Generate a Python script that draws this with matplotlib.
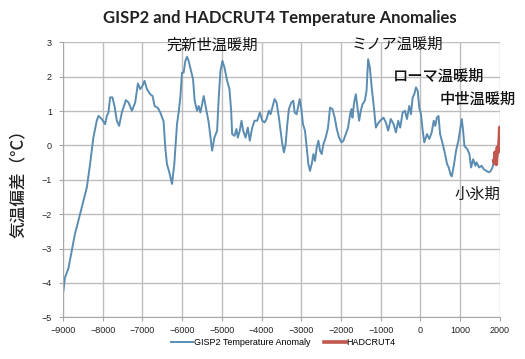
import matplotlib.pyplot as plt

# GISP2 (年, 気温偏差) - 画像から読み取り
gisp_years = [-9000, -8950, -8866, -8780, -8700, -8613, -8487, -8400, -8318, -8235,
              -8150, -8108, -8023, -7939, -7896, -7855, -7813, -7755, -7704, -7644,
              -7586, -7518, -7417, -7350, -7265, -7182, -7114, -7056, -6997, -6947,
              -6886, -6803, -6745, -6694, -6609, -6550, -6467, -6424, -6382, -6323,
              -6255, -6197, -6129, -6088, -6045, -6003, -5962, -5919, -5876, -5836,
              -5775, -5725, -5684, -5624, -5583, -5540, -5497, -5457, -5396, -5331,
              -5245, -5187, -5119, -5078, -5035, -4985, -4934, -4866, -4808, -4765,
              -4740, -4682, -4631, -4598, -4548, -4505, -4462, -4404, -4346, -4295,
              -4235, -4177, -4109, -4043, -3982, -3924, -3874, -3816, -3773, -3730,
              -3672, -3621, -3563, -3520, -3477, -3437, -3394, -3351, -3311, -3250,
              -3199, -3167, -3116, -3083, -3040, -2997, -2957, -2906, -2864, -2821,
              -2780, -2737, -2694, -2654, -2611, -2568, -2528, -2485, -2442, -2384,
              -2326, -2275, -2215, -2157, -2106, -2048, -1987, -1937, -1879, -1821,
              -1770, -1735, -1710, -1669, -1626, -1583, -1543, -1500, -1457, -1399,
              -1356, -1316, -1273, -1222, -1179, -1121, -1078, -1013, -927, -869,
              -811, -745, -674, -616, -558, -508, -447, -389, -338, -280,
              -237, -194, -154, -111, -68, -28, 15, 58, 98, 167,
              225, 285, 336, 376, 414, 457, 497, 563, 621, 672,
              715, 755, 790, 841, 899, 957, 1008, 1043, 1076, 1109,
              1177, 1235, 1278, 1328, 1386, 1414, 1479, 1539, 1596, 1663,
              1722, 1772, 1815, 1855]
gisp_temp = [-4.32, -3.84, -3.59, -3.06, -2.58, -2.19, -1.61, -1.22, -0.54, 0.23,
             0.72, 0.86, 0.77, 0.62, 0.86, 0.96, 1.40, 1.40, 1.15, 0.72,
             0.57, 0.96, 1.32, 1.25, 1.01, 1.25, 1.80, 1.64, 1.74, 1.88,
             1.64, 1.49, 1.44, 1.15, 1.09, 0.96, 0.70, -0.06, -0.54, -0.78,
             -1.12, -0.54, 0.62, 0.96, 1.40, 2.12, 2.12, 2.46, 2.58, 2.46,
             2.17, 1.93, 1.30, 1.01, 1.15, 0.96, 1.20, 1.44, 1.06, 0.67,
             -0.15, 0.23, 0.43, 1.40, 2.17, 2.46, 2.27, 1.88, 1.64, 1.01,
             0.33, 0.28, 0.48, 0.23, 0.43, 0.72, 0.43, 0.23, 0.52, 0.14,
             0.52, 0.72, 0.72, 0.96, 0.72, 0.67, 0.77, 1.01, 0.91, 1.10,
             1.35, 1.25, 0.81, 0.43, 0.04, -0.20, 0.04, 0.62, 1.06, 1.25,
             1.30, 0.96, 0.91, 1.10, 1.35, 1.06, 0.62, 0.43, -0.06, -0.54,
             -0.74, -0.54, -0.25, -0.45, -0.06, 0.14, -0.15, -0.25, 0.04, 0.23,
             0.52, 1.10, 1.06, 0.81, 0.48, 0.23, 0.09, 0.14, 0.33, 0.52,
             0.91, 1.06, 0.81, 1.25, 1.49, 1.10, 0.72, 1.01, 1.20, 1.30,
             1.59, 2.51, 2.27, 1.64, 1.20, 0.52, 0.62, 0.72, 0.81, 0.67,
             0.43, 0.77, 0.62, 0.38, 0.72, 0.52, 0.96, 1.01, 0.77, 1.15,
             0.91, 1.40, 1.49, 1.69, 1.59, 1.10, 0.91, 0.43, 0.09, 0.33,
             0.19, 0.38, 0.72, 0.57, 0.81, 0.86, 0.33, 0.04, -0.25, -0.54,
             -0.64, -0.83, -0.90, -0.59, -0.15, 0.14, 0.52, 0.77, 0.43, -0.01,
             -0.10, -0.25, -0.64, -0.40, -0.59, -0.49, -0.64, -0.59, -0.69, -0.74,
             -0.78, -0.74, -0.64, -0.45]

# HADCRUT4
had_years = [1850, 1860, 1870, 1878, 1885, 1895, 1905, 1911, 1920, 1930,
             1940, 1950, 1960, 1970, 1980, 1990, 1998, 2005, 2012]
had_temp = [-0.45, -0.50, -0.40, -0.20, -0.45, -0.40, -0.50, -0.55, -0.35, -0.25,
            -0.05, -0.20, -0.10, -0.15, 0.05, 0.25, 0.50, 0.45, 0.52]

# 注釈 (テキスト, x, y, 太さ)
notes = [('完新世温暖期', -5240, 2.93, 'normal'),
         ('ミノア温暖期', -590, 2.93, 'normal'),
         ('ローマ温暖期', 470, 2.0, 'medium'),
         ('中世温暖期', 1450, 1.33, 'medium'),
         ('小氷期', 1430, -1.41, 'normal')]

plt.rcParams['font.family'] = ['Liberation Sans', 'DejaVu Sans']
fig = plt.figure(figsize=(5.25, 3.59), dpi=100)
ax = fig.add_axes([0.12, 0.116, 0.832, 0.766])

ax.plot(gisp_years, gisp_temp, color='#5b8db3', lw=1.4, label='GISP2 Temperature Anomaly')
ax.plot(had_years, had_temp, color='#c2574d', lw=2.6, label='HADCRUT4')

ax.set_xlim(-9000, 2000)
ax.set_ylim(-5, 3)
ax.set_xticks(range(-9000, 2001, 1000))
ax.set_yticks(range(-5, 4))
ax.grid(True, color='#bdbdbd', lw=1.0)
ax.set_axisbelow(True)
for s in ['top', 'right']:
    ax.spines[s].set_visible(False)
for s in ['left', 'bottom']:
    ax.spines[s].set_color('#a8a8a8')
ax.tick_params(axis='both', labelsize=6.5, length=3, color='#a8a8a8', labelcolor='#222222')
ax.tick_params(axis='y', pad=5)
ax.tick_params(axis='x', pad=3)

for txt, x, y, w in notes:
    ax.text(x, y, txt, ha='center', va='center', fontsize=11, fontweight=w,
            family=['Noto Sans CJK JP', 'DejaVu Sans'], color='#111111')

fig.text(0.533, 0.95, 'GISP2 and HADCRUT4 Temperature Anomalies', ha='center', va='center',
         fontsize=12, fontweight='bold', family=['Lato', 'DejaVu Sans'], color='#222222')
fig.text(0.034, 0.5, '気温偏差（°C）', rotation=90, ha='center', va='center', fontsize=12,
         fontweight='medium', family=['Noto Sans CJK JP', 'DejaVu Sans'], color='#222222')

fig.legend(loc='center', bbox_to_anchor=(0.54, 0.045), ncol=2, frameon=False, fontsize=6.5,
           handlelength=2.4, handletextpad=0.1, columnspacing=1.5)

fig.savefig('out.png', dpi=100)
